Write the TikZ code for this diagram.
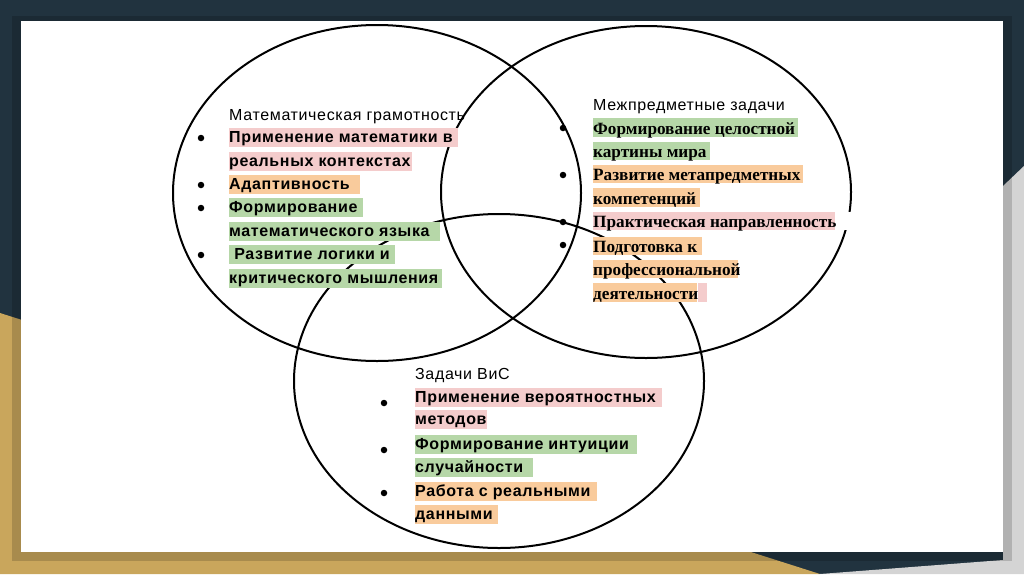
\documentclass[tikz,border=0pt]{standalone}
\usepackage{fontspec}
\setmainfont{Liberation Sans}[LetterSpace=4]
\newfontfamily\serifb{Liberation Serif}
\definecolor{navy}{RGB}{33,51,63}
\definecolor{gold}{RGB}{201,166,92}
\definecolor{lgray}{RGB}{212,212,212}
\definecolor{hpink}{HTML}{F4CCCC}
\definecolor{hgreen}{HTML}{B6D7A8}
\definecolor{horange}{HTML}{F9CB9C}
\tikzset{
  ring/.style={draw=black, line width=2pt},
  dot/.style={circle, fill=black, inner sep=0pt, minimum size=6.5pt},
  ttl/.style={anchor=base west, inner sep=0pt, font=\fontsize{16}{19}\selectfont},
  hla/.style={anchor=west, inner sep=0pt, text height=14.5pt, text depth=4.5pt,
              font=\fontsize{16}{19}\selectfont\bfseries},
  hlb/.style={anchor=west, inner sep=0pt, text height=16pt, text depth=2.5pt,
              font=\fontsize{17.2}{20}\selectfont\serifb\bfseries},
}
\newcommand{\wb}[2]{\makebox[#1pt][l]{#2}}
\begin{document}
\begin{tikzpicture}[x=1pt,y=-1pt]
\useasboundingbox (0,0) rectangle (1024,574);
% background
\fill[navy] (0,0) rectangle (1024,574);
\fill[gold] (0,313) -- (820,574) -- (0,574) -- cycle;
\fill[lgray] (1024,166) -- (1003,186) -- (1003,560) -- (820,574) -- (1024,574) -- cycle;
\fill[black, opacity=0.16] (12,16) rectangle (1012,561);
\fill[white] (21,21) rectangle (1003,552);
% sets
\draw[ring] (377,193) ellipse [x radius=204pt, y radius=168pt];
\draw[ring] (646,192) ellipse [x radius=205pt, y radius=166pt];
\draw[ring] (499,381) ellipse [x radius=205pt, y radius=167pt];
% left block
\node[ttl] (tA) at (229,120) {Математическая грамотность};
\node[hla, fill=hpink]   (a1) at (229,137.5) {\wb{229}{Применение математики в}};
\node[hla, fill=hpink]   (a2) at (229,161)   {\wb{183}{реальных контекстах}};
\node[hla, fill=horange] (a3) at (229,184)   {\wb{131}{Адаптивность}};
\node[hla, fill=hgreen]  (a4) at (229,207.5) {\wb{134}{Формирование}};
\node[hla, fill=hgreen]  (a5) at (229,231.5) {\wb{211}{математического языка}};
\node[hla, fill=hgreen]  (a6) at (229,254)   {\wb{166}{\ Развитие логики и}};
\node[hla, fill=hgreen]  (a7) at (229,278)   {\wb{213}{критического мышления}};
\node[dot] (da1) at (201,138) {};
\node[dot] (da2) at (201,185) {};
\node[dot] (da3) at (201,208) {};
\node[dot] (da4) at (201,255) {};
% right block
\node[ttl] (tB) at (593,110.7) {Межпредметные задачи};
\node[hlb, fill=hgreen]  (b1) at (593,127.5) {\wb{205}{Формирование целостной}};
\node[hlb, fill=hgreen]  (b2) at (593,151)   {\wb{117}{картины мира}};
\node[hlb, fill=horange] (b3) at (593,174)   {\wb{210}{Развитие метапредметных}};
\node[hlb, fill=horange] (b4) at (593,197.5) {\wb{107}{компетенций}};
\node[hlb, fill=hpink]   (b5) at (593,221)   {\wb{242}{Практическая направленность}};
\node[hlb, fill=white, anchor=west] (b5w) at (b5.east) {\wb{18}{}};
\node[hlb, fill=horange] (b6) at (593,246)   {\wb{109}{Подготовка к}};
\node[hlb, fill=horange] (b7) at (593,269)   {\wb{145}{профессиональной}};
\node[hlb, fill=horange] (b8) at (593,292.5) {\wb{104}{деятельности}};
\node[hlb, fill=hpink, anchor=west] (b8p) at (b8.east) {\wb{9}{}};
\node[dot] (db1) at (563,128) {};
\node[dot] (db2) at (563,175) {};
\node[dot] (db3) at (563,222) {};
\node[dot] (db4) at (563,245) {};
% bottom block
\node[ttl] (tC) at (415,379.3) {Задачи ВиС};
\node[hla, fill=hpink]   (c1) at (415,397.5) {\wb{247}{Применение вероятностных}};
\node[hla, fill=hpink]   (c2) at (415,419)   {\wb{72}{методов}};
\node[hla, fill=hgreen]  (c3) at (415,444)   {\wb{222}{Формирование интуиции}};
\node[hla, fill=hgreen]  (c4) at (415,467.5) {\wb{118}{случайности}};
\node[hla, fill=horange] (c5) at (415,491)   {\wb{182}{Работа с реальными}};
\node[hla, fill=horange] (c6) at (415,514)   {\wb{83}{данными}};
\node[dot] (dc1) at (384,403) {};
\node[dot] (dc2) at (384,450) {};
\node[dot] (dc3) at (384,493) {};
\end{tikzpicture}
\end{document}
